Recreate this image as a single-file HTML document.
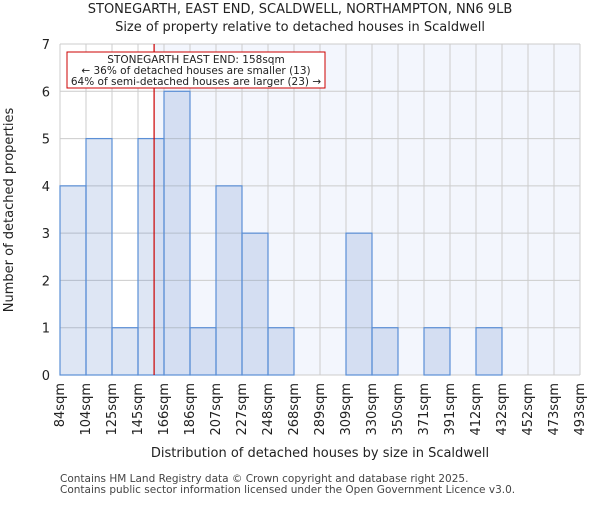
<!DOCTYPE html>
<html><head><meta charset="utf-8"><style>
body{margin:0;background:#fff;font-family:"Liberation Sans","DejaVu Sans",sans-serif}
svg text{font-family:"DejaVu Sans","Liberation Sans",sans-serif}
</style></head><body>
<svg id="c" width="600" height="500" xmlns="http://www.w3.org/2000/svg"></svg>
<script>
const categories=["84sqm","104sqm","125sqm","145sqm","166sqm","186sqm","207sqm","227sqm","248sqm","268sqm","289sqm","309sqm","330sqm","350sqm","371sqm","391sqm","412sqm","432sqm","452sqm","473sqm","493sqm"];
const counts=[4,5,1,5,6,1,4,3,1,0,0,3,1,0,1,0,1,0,0,0];
const yTicks=[0,1,2,3,4,5,6,7];
const edges=[84,104,125,145,166,186,207,227,248,268,289,309,330,350,371,391,412,432,452,473,493];
const marker=158;
const NS="http://www.w3.org/2000/svg";
const svg=document.getElementById('c');
const X0=60,X1=580,Y0=375,Y1=44;
const bw=(X1-X0)/counts.length;
function xi(i){return X0+i*bw;}
function y(v){return Y0-(v/7)*(Y0-Y1);}
function xv(v){for(let i=0;i<edges.length-1;i++){if(v<=edges[i+1])return xi(i)+(v-edges[i])/(edges[i+1]-edges[i])*bw;}return X1;}
function mk(t,a,p){const e=document.createElementNS(NS,t);for(const k in a)e.setAttribute(k,a[k]);(p||svg).appendChild(e);return e;}
const mx=xv(marker);
let e=mk('rect',{x:mx,y:Y1,width:X1-mx,height:Y0-Y1,fill:'#f3f6fd'});


for(let i=0;i<=counts.length;i++){e=mk('line',{x1:xi(i),x2:xi(i),y1:Y1,y2:Y0,stroke:'#cccccc','stroke-width':1});

}
yTicks.forEach(t=>{e=mk('line',{x1:X0,x2:X1,y1:y(t),y2:y(t),stroke:'#cccccc','stroke-width':1});


e=mk('text',{x:X0-10,y:y(t)+5,'text-anchor':'end','font-size':13,fill:'#222'});e.textContent=t;

});
counts.forEach((c,i)=>{if(c<=0)return;e=mk('rect',{x:xi(i),y:y(c),width:bw,height:Y0-y(c),fill:'rgb(90,130,200)','fill-opacity':0.2,stroke:'#5b8fd6','stroke-width':1.2});

});
categories.forEach((c,i)=>{const tx=xi(i)+4;e=mk('text',{x:tx,y:383,'text-anchor':'end','font-size':13,fill:'#222',transform:`rotate(-90 ${tx} 383)`});e.textContent=c;

});
e=mk('line',{x1:mx,x2:mx,y1:Y1,y2:Y0,stroke:'#cc0000','stroke-width':1.2});


const g=mk('g',{});


mk('rect',{x:67,y:52,width:258,height:36,fill:'#fff',stroke:'#cc0000','stroke-width':1},g);
["STONEGARTH EAST END: 158sqm","← 36% of detached houses are smaller (13)","64% of semi-detached houses are larger (23) →"].forEach((s,i)=>{const t=mk('text',{x:196,y:63+i*11,'text-anchor':'middle','font-size':10.5,fill:'#222'},g);t.textContent=s;});
function txt(s,a,n){const t=mk('text',a);t.textContent=s;return t;}
txt("STONEGARTH, EAST END, SCALDWELL, NORTHAMPTON, NN6 9LB",{x:300,y:13,'text-anchor':'middle','font-size':13,fill:'#222'},'chart-title');
txt("Size of property relative to detached houses in Scaldwell",{x:300,y:31,'text-anchor':'middle','font-size':13,fill:'#222'},'chart-subtitle');
txt("Distribution of detached houses by size in Scaldwell",{x:320,y:457,'text-anchor':'middle','font-size':13,fill:'#222'},'x-axis-title');
txt("Number of detached properties",{x:0,y:0,'text-anchor':'middle','font-size':13,fill:'#222',transform:'translate(13 210) rotate(-90)'},'y-axis-title');
txt("Contains HM Land Registry data © Crown copyright and database right 2025.",{x:60,y:482,'font-size':10.5,fill:'#444'},'footer-line-1');
txt("Contains public sector information licensed under the Open Government Licence v3.0.",{x:60,y:493,'font-size':10.5,fill:'#444'},'footer-line-2');
</script>
</body></html>
